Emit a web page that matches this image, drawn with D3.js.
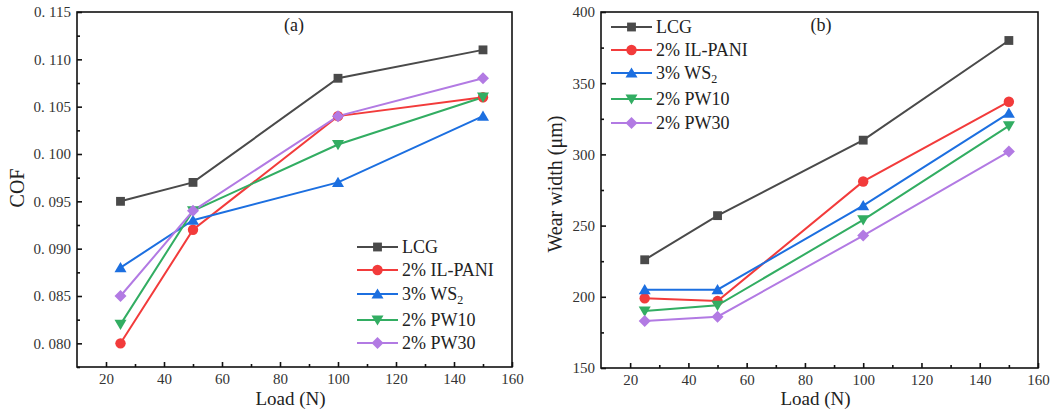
<!DOCTYPE html>
<html><head><meta charset="utf-8">
<script src="https://cdn.jsdelivr.net/npm/d3@7"></script>
<style>
body{margin:0;background:#fff;}
</style></head>
<body><svg id="c" width="1058" height="409"></svg>
<script>
const loads = [25, 50, 100, 150];
const seriesNames = ["LCG", "2% IL-PANI", "3% WS2", "2% PW10", "2% PW30"];
const colors = ["#4a4a4a", "#f23b3b", "#1c6fe0", "#32ad62", "#b27ae3"];
const shapes = ["square", "circle", "triangle", "down", "diamond"];

const cofLCG = [0.095, 0.097, 0.108, 0.111];
const cofILPANI = [0.080, 0.092, 0.104, 0.106];
const cofWS2 = [0.088, 0.093, 0.097, 0.104];
const cofPW10 = [0.082, 0.094, 0.101, 0.106];
const cofPW30 = [0.085, 0.094, 0.104, 0.108];

const wearLCG = [226, 257, 310, 380];
const wearILPANI = [199, 197, 281, 337];
const wearWS2 = [205, 205, 264, 329];
const wearPW10 = [190, 194, 254, 320];
const wearPW30 = [183, 186, 243, 302];

const xTicks = [20, 40, 60, 80, 100, 120, 140, 160];
const cofTicks = [0.080, 0.085, 0.090, 0.095, 0.100, 0.105, 0.110, 0.115];
const wearTicks = [150, 200, 250, 300, 350, 400];

const FONT = "'Liberation Serif','Times New Roman',serif";
const svg = d3.select("#c");

function symbolFor(s){
  if(s==="square") return d3.symbol(d3.symbolSquare, 78)();
  if(s==="circle") return d3.symbol(d3.symbolCircle, 85)();
  if(s==="triangle") return "M0,-5.6L6,4.6L-6,4.6Z";
  if(s==="down") return "M-6,-4.6L6,-4.6L0,5.6Z";
  if(s==="diamond") return "M0,-6L6,0L0,6L-6,0Z";
}

function panel(opt){
  const g = svg.append("g").attr("font-family", FONT);
  const x = d3.scaleLinear().domain([10,160]).range([opt.left, opt.right]);
  const y = d3.scaleLinear().domain(opt.ydom).range([opt.bottom, opt.top]);

  g.append("rect").attr("x",opt.left).attr("y",opt.top)
    .attr("width",opt.right-opt.left).attr("height",opt.bottom-opt.top)
    .attr("fill","none").attr("stroke","#111").attr("stroke-width",1.6);

  const xa = d3.axisBottom(x).tickValues(xTicks).tickSize(-5).tickPadding(6).tickFormat(d3.format("d"));
  g.append("g").attr("transform",`translate(0,${opt.bottom})`).call(xa);
  const xMinor = d3.axisBottom(x).tickValues(d3.range(30,160,20)).tickSize(-3).tickFormat("");
  g.append("g").attr("transform",`translate(0,${opt.bottom})`).call(xMinor);
  const ya = d3.axisLeft(y).tickValues(opt.yticks).tickSize(-5).tickPadding(6).tickFormat(opt.fmt);
  g.append("g").attr("transform",`translate(${opt.left},0)`).call(ya);
  const yMinor = d3.axisLeft(y).tickValues(opt.yminor).tickSize(-3).tickFormat("");
  g.append("g").attr("transform",`translate(${opt.left},0)`).call(yMinor);

  g.selectAll(".domain").remove();
  g.selectAll("g").attr("font-family", FONT);
  g.selectAll(".tick line").attr("stroke","#111").attr("stroke-width",1.6);
  g.selectAll(".tick text").attr("font-size",15).attr("fill","#333").attr("font-family", FONT);

  g.append("text").attr("x",(opt.left+opt.right)/2-4).attr("y",405)
    .attr("text-anchor","middle").attr("font-size",19).attr("fill","#222").text("Load (N)");
  g.append("text").attr("transform",`translate(${opt.ylabX},${opt.ylabY}) rotate(-90)`)
    .attr("text-anchor","middle").attr("font-size",20).attr("fill","#222").text(opt.ylabel);

  g.append("text").attr("x",opt.titleX).attr("y",31).attr("text-anchor","middle")
    .attr("font-size",18).attr("fill","#222").text(opt.title);

  const line = d3.line().x((d,i)=>x(loads[i])).y(d=>y(d));
  opt.data.forEach((vals,k)=>{
    g.append("path").datum(vals).attr("d",line).attr("fill","none")
      .attr("stroke",colors[k]).attr("stroke-width",2);
  });
  opt.data.forEach((vals,k)=>{
    g.selectAll(null).data(vals).enter().append("path")
      .attr("d",symbolFor(shapes[k]))
      .attr("transform",(d,i)=>`translate(${x(loads[i])},${y(d)})`)
      .attr("fill",colors[k]);
  });

  seriesNames.forEach((nm,k)=>{
    const yy = opt.legY[k];
    g.append("line").attr("x1",opt.legX).attr("x2",opt.legX+41).attr("y1",yy).attr("y2",yy)
      .attr("stroke",colors[k]).attr("stroke-width",2);
    g.append("path").attr("d",symbolFor(shapes[k])).attr("transform",`translate(${opt.legX+20.5},${yy})`)
      .attr("fill",colors[k]);
    const t = g.append("text").attr("x",opt.legX+45).attr("y",yy+6).attr("font-size",18).attr("fill","#222");
    if(nm==="3% WS2"){
      t.text("3% WS");
      t.append("tspan").attr("font-size",12).attr("dy",4).text("2");
    } else t.text(nm);
  });
}

panel({
  left:77, right:512, top:12, bottom:367,
  ydom:[0.0775,0.115], yticks:cofTicks,
  yminor:d3.range(0.0775,0.115,0.005).map(v=>+v.toFixed(4)),
  fmt:d=>d3.format(".3f")(d).replace(".",". "),
  ylabel:"COF", ylabX:24, ylabY:188, title:"(a)", titleX:294,
  data:[cofLCG,cofILPANI,cofWS2,cofPW10,cofPW30],
  legX:357, legY:[247,270,294,320,343]
});
panel({
  left:601, right:1038, top:12, bottom:368,
  ydom:[150,400], yticks:wearTicks,
  yminor:d3.range(175,400,50),
  fmt:d3.format("d"),
  ylabel:"Wear width (\u03bcm)", ylabX:562, ylabY:184, title:"(b)", titleX:821,
  data:[wearLCG,wearILPANI,wearWS2,wearPW10,wearPW30],
  legX:611, legY:[27,50,73,99,123]
});
</script></body></html>
